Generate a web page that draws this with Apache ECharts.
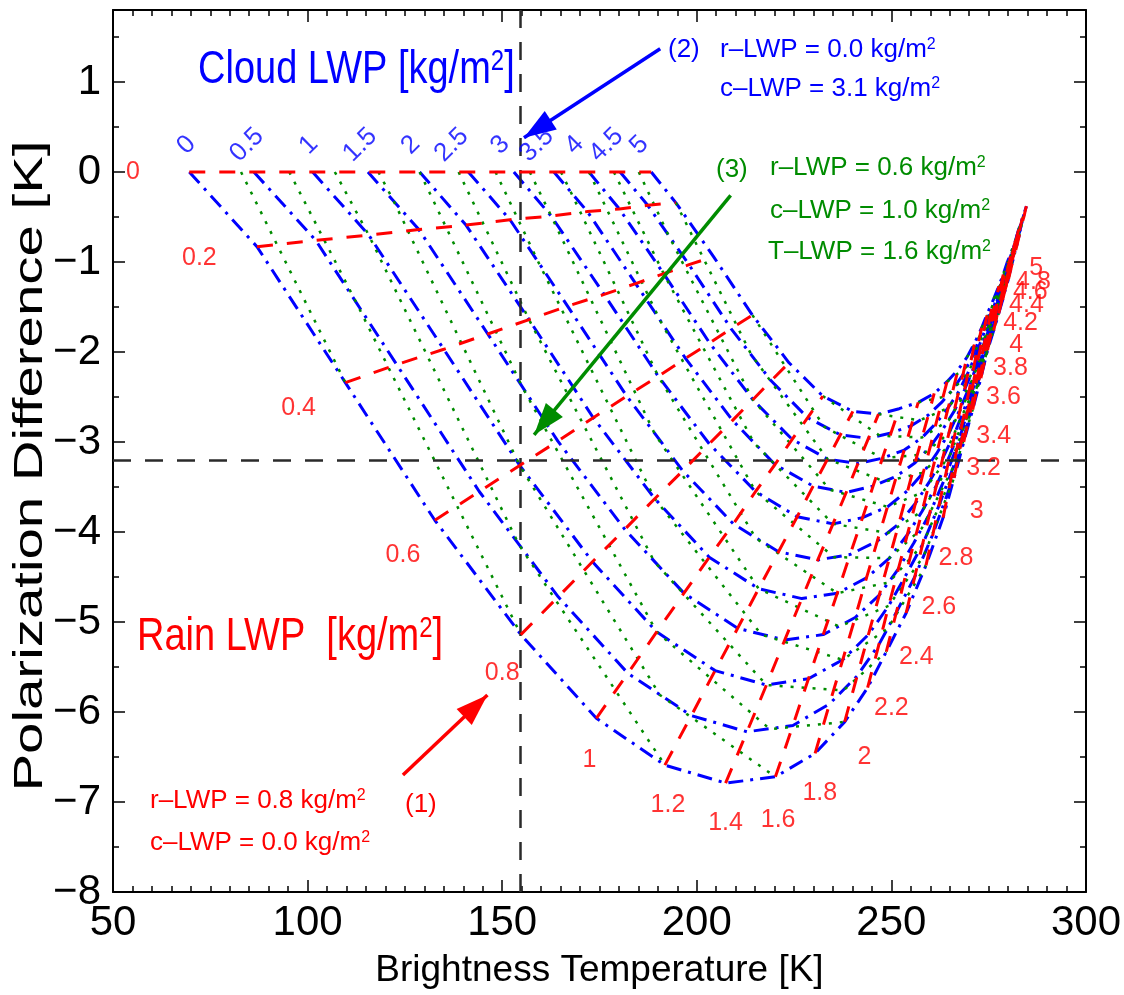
<!DOCTYPE html>
<html>
<head>
<meta charset="utf-8">
<title>Polarization difference vs brightness temperature</title>
<script src="https://cdn.jsdelivr.net/npm/echarts@6.0.0/dist/echarts.min.js"></script>
<style>
  html, body { margin: 0; padding: 0; background: #fff; }
  #main { width: 1124px; height: 995px; }
</style>
</head>
<body>
<div id="main"></div>
<script>
// lookup table
// rows = rain LWP, columns = cloud LWP, values = Tb [K] / PD [K]
const cloudLevels = [0, 0.5, 1, 1.5, 2, 2.5, 3, 3.5, 4, 4.5, 5]
const rainLevels = [0, 0.2, 0.4, 0.6, 0.8, 1, 1.2, 1.4, 1.6, 1.8, 2, 2.2, 2.4, 2.6, 2.8,
  3, 3.2, 3.4, 3.6, 3.8, 4, 4.2, 4.4, 4.6, 4.8, 5]

const tbGrid = [
  [69.6, 86.2, 101.3, 115.5, 128.8, 141.3, 153.0, 163.3, 172.3, 180.3, 188.3],
  [87.0, 102.1, 115.7, 128.6, 140.7, 152.0, 162.6, 171.9, 180.1, 187.4, 194.6],
  [109.7, 122.9, 135.0, 146.3, 156.9, 166.8, 176.2, 184.3, 191.5, 198.0, 204.3],
  [132.7, 144.1, 154.5, 164.3, 173.4, 182.0, 190.1, 197.1, 203.3, 208.8, 214.3],
  [154.8, 164.4, 173.2, 181.5, 189.2, 196.4, 203.2, 209.2, 214.4, 219.1, 223.7],
  [174.2, 182.3, 189.7, 196.7, 203.2, 209.4, 215.1, 220.1, 224.5, 228.5, 232.4],
  [191.8, 198.6, 204.7, 210.5, 215.9, 221.0, 225.8, 229.9, 233.6, 236.9, 240.1],
  [207.4, 212.9, 217.9, 222.6, 227.0, 231.1, 235.0, 238.4, 241.4, 244.1, 246.7],
  [220.2, 224.7, 228.7, 232.5, 236.1, 239.4, 242.6, 245.3, 247.7, 249.9, 252.0],
  [230.4, 234.1, 237.5, 240.7, 243.6, 246.4, 249.0, 251.3, 253.3, 255.1, 256.9],
  [238.0, 241.2, 244.1, 246.9, 249.5, 251.9, 254.2, 256.1, 257.9, 259.5, 261.0],
  [243.9, 246.8, 249.3, 251.8, 254.1, 256.2, 258.2, 260.0, 261.5, 262.9, 264.3],
  [248.7, 251.3, 253.6, 255.8, 257.9, 259.8, 261.6, 263.2, 264.6, 265.9, 267.1],
  [253.8, 256.0, 258.0, 259.8, 261.6, 263.2, 264.8, 266.1, 267.3, 268.4, 269.4],
  [258.9, 260.7, 262.2, 263.7, 265.1, 266.5, 267.7, 268.8, 269.7, 270.6, 271.4],
  [263.3, 264.7, 265.9, 267.1, 268.2, 269.3, 270.3, 271.1, 271.9, 272.5, 273.2],
  [266.1, 267.3, 268.4, 269.4, 270.4, 271.3, 272.1, 272.9, 273.5, 274.1, 274.7],
  [268.6, 269.7, 270.7, 271.6, 272.4, 273.3, 274.0, 274.7, 275.3, 275.8, 276.3],
  [270.9, 271.8, 272.7, 273.5, 274.2, 274.9, 275.6, 276.2, 276.7, 277.2, 277.6],
  [273.0, 273.8, 274.5, 275.2, 275.9, 276.5, 277.1, 277.6, 278.0, 278.4, 278.8],
  [274.7, 275.4, 276.1, 276.7, 277.2, 277.8, 278.3, 278.7, 279.1, 279.5, 279.8],
  [276.3, 276.9, 277.5, 278.1, 278.6, 279.1, 279.5, 279.9, 280.3, 280.6, 280.9],
  [277.6, 278.2, 278.7, 279.3, 279.7, 280.2, 280.6, 281.0, 281.3, 281.6, 281.9],
  [278.6, 279.2, 279.7, 280.2, 280.6, 281.1, 281.5, 281.8, 282.1, 282.4, 282.7],
  [279.3, 279.9, 280.5, 281.0, 281.5, 282.0, 282.4, 282.8, 283.1, 283.4, 283.7],
  [280.1, 280.7, 281.3, 281.9, 282.4, 282.9, 283.3, 283.7, 284.1, 284.4, 284.7]
]

const pdGrid = [
  [0, 0, 0, 0, 0, 0, 0, 0, 0, 0, 0],
  [-0.83, -0.76, -0.70, -0.64, -0.59, -0.53, -0.49, -0.44, -0.41, -0.37, -0.34],
  [-2.34, -2.14, -1.97, -1.80, -1.64, -1.49, -1.36, -1.24, -1.13, -1.03, -0.94],
  [-3.87, -3.55, -3.26, -2.99, -2.73, -2.49, -2.27, -2.07, -1.90, -1.74, -1.59],
  [-5.14, -4.72, -4.33, -3.97, -3.63, -3.32, -3.02, -2.76, -2.53, -2.32, -2.12],
  [-6.07, -5.57, -5.11, -4.68, -4.28, -3.91, -3.55, -3.25, -2.97, -2.73, -2.49],
  [-6.59, -6.04, -5.54, -5.07, -4.63, -4.22, -3.83, -3.49, -3.19, -2.92, -2.66],
  [-6.79, -6.22, -5.70, -5.20, -4.74, -4.31, -3.91, -3.56, -3.24, -2.96, -2.69],
  [-6.72, -6.15, -5.63, -5.14, -4.68, -4.25, -3.84, -3.49, -3.18, -2.90, -2.63],
  [-6.46, -5.91, -5.42, -4.95, -4.51, -4.10, -3.72, -3.38, -3.09, -2.82, -2.56],
  [-6.11, -5.60, -5.14, -4.70, -4.29, -3.91, -3.54, -3.23, -2.95, -2.70, -2.46],
  [-5.73, -5.25, -4.82, -4.41, -4.03, -3.68, -3.34, -3.05, -2.79, -2.56, -2.33],
  [-5.33, -4.89, -4.49, -4.12, -3.77, -3.44, -3.13, -2.86, -2.62, -2.41, -2.20],
  [-4.90, -4.50, -4.14, -3.80, -3.48, -3.18, -2.90, -2.66, -2.44, -2.25, -2.06],
  [-4.37, -4.02, -3.71, -3.41, -3.14, -2.88, -2.63, -2.42, -2.23, -2.07, -1.90],
  [-3.84, -3.54, -3.28, -3.02, -2.79, -2.57, -2.36, -2.18, -2.01, -1.87, -1.73],
  [-3.40, -3.14, -2.91, -2.69, -2.49, -2.29, -2.11, -1.96, -1.82, -1.69, -1.57],
  [-3.00, -2.78, -2.58, -2.38, -2.21, -2.04, -1.88, -1.75, -1.62, -1.52, -1.41],
  [-2.64, -2.45, -2.27, -2.11, -1.96, -1.81, -1.68, -1.56, -1.45, -1.36, -1.27],
  [-2.29, -2.13, -1.98, -1.84, -1.71, -1.59, -1.47, -1.37, -1.29, -1.21, -1.13],
  [-1.98, -1.84, -1.72, -1.60, -1.49, -1.39, -1.29, -1.21, -1.13, -1.07, -1.00],
  [-1.76, -1.64, -1.53, -1.42, -1.32, -1.23, -1.14, -1.07, -1.00, -0.94, -0.88],
  [-1.57, -1.46, -1.35, -1.26, -1.17, -1.08, -1.00, -0.93, -0.87, -0.81, -0.76],
  [-1.42, -1.31, -1.21, -1.12, -1.03, -0.95, -0.87, -0.80, -0.75, -0.69, -0.64],
  [-1.30, -1.19, -1.09, -0.99, -0.91, -0.82, -0.74, -0.68, -0.62, -0.56, -0.51],
  [-1.19, -1.08, -0.97, -0.88, -0.79, -0.70, -0.62, -0.55, -0.49, -0.43, -0.38]
]

// lines of constant total LWP (green dotted), points where they cross the grid
const totalLevels = [0.4, 0.8, 1.2, 1.6, 2.0, 2.4, 2.8, 3.2, 3.6, 4.0, 4.4, 4.8,
  5.2, 5.6, 6.0, 6.4, 6.8, 7.2, 7.6, 8.0, 8.4, 8.8, 9.2, 9.6]
const totalTb = [
  [82.9, 109.7],
  [95.3, 112.5, 154.8],
  [107.0, 115.7, 154.3, 191.8],
  [118.2, 122.1, 154.5, 190.5, 220.2],
  [128.8, 155.3, 189.7, 218.8, 238.0],
  [138.8, 156.9, 189.1, 217.9, 237.7, 248.7],
  [148.3, 159.4, 189.2, 216.6, 237.5, 249.1, 258.9],
  [157.1, 162.6, 189.2, 215.9, 236.6, 249.3, 258.4, 266.1],
  [165.1, 167.6, 190.1, 215.2, 236.1, 249.4, 258.0, 266.0, 270.9],
  [172.3, 190.7, 215.1, 235.3, 249.5, 257.8, 265.9, 270.8, 274.7],
  [178.7, 191.5, 214.7, 235.0, 249.2, 257.9, 265.4, 270.7, 274.6, 277.6],
  [185.1, 192.7, 214.4, 234.2, 249.0, 258.0, 265.1, 270.5, 274.5, 277.6, 279.3],
  [194.6, 214.0, 233.6, 248.3, 258.2, 264.9, 270.4, 274.4, 277.5, 279.6, 280.3],
  [214.3, 232.7, 247.7, 258.1, 264.8, 270.3, 274.2, 277.4, 279.7, 280.8],
  [232.4, 247.0, 257.9, 264.7, 270.3, 274.1, 277.2, 279.8, 281.3],
  [246.7, 257.3, 264.6, 270.0, 274.0, 277.2, 279.7, 281.5, 281.8],
  [256.9, 264.4, 269.7, 273.8, 277.1, 279.7, 281.5, 282.2],
  [264.3, 269.5, 273.5, 276.9, 279.5, 281.6, 282.6],
  [269.4, 273.3, 276.7, 279.3, 281.5, 283.0],
  [273.2, 276.5, 279.1, 281.4, 283.3],
  [276.3, 279.0, 281.3, 283.3, 283.6],
  [278.8, 281.1, 283.1, 283.9],
  [280.9, 282.9, 284.2],
  [282.7, 284.5]
]
const totalPd = [
  [0, -2.34],
  [0, -1.45, -5.14],
  [0, -0.70, -4.14, -6.59],
  [0, -0.32, -3.26, -5.81, -6.72],
  [0, -2.40, -5.11, -6.19, -6.11],
  [0, -1.64, -4.33, -5.70, -5.76, -5.33],
  [0, -1.01, -3.63, -5.14, -5.42, -5.07, -4.37],
  [0, -0.49, -2.91, -4.63, -5.05, -4.82, -4.26, -3.40],
  [0, -0.22, -2.27, -4.07, -4.68, -4.56, -4.14, -3.34, -2.64],
  [0, -1.66, -3.55, -4.28, -4.29, -3.96, -3.28, -2.62, -1.98],
  [0, -1.13, -3.01, -3.91, -4.01, -3.77, -3.22, -2.58, -1.99, -1.57],
  [0, -0.70, -2.53, -3.53, -3.72, -3.56, -3.14, -2.54, -1.98, -1.55, -1.30],
  [-0.34, -2.03, -3.19, -3.44, -3.34, -3.03, -2.49, -1.98, -1.53, -1.25, -1.15],
  [-1.59, -2.83, -3.18, -3.14, -2.90, -2.43, -1.96, -1.51, -1.21, -1.06],
  [-2.49, -2.93, -2.95, -2.76, -2.36, -1.93, -1.49, -1.19, -0.97],
  [-2.69, -2.76, -2.62, -2.30, -1.88, -1.49, -1.17, -0.94, -0.90],
  [-2.56, -2.49, -2.23, -1.86, -1.47, -1.16, -0.91, -0.83],
  [-2.33, -2.16, -1.82, -1.47, -1.14, -0.89, -0.75],
  [-2.06, -1.78, -1.45, -1.14, -0.87, -0.68],
  [-1.73, -1.44, -1.13, -0.87, -0.62],
  [-1.41, -1.14, -0.87, -0.62, -0.56],
  [-1.13, -0.88, -0.62, -0.51],
  [-0.88, -0.63, -0.47],
  [-0.64, -0.42]
]

// where the value labels sit (data coords)
const rainLabelTb = [55.1, 72.2, 97.7, 124.5, 150.0, 172.4, 192.6, 207.4, 220.9, 231.6, 243.1,
  250.0, 256.4, 262.2, 266.6, 271.9, 273.7, 276.3, 278.8, 280.6, 282.1, 283.2, 284.7, 285.7, 286.5, 287.2]
const rainLabelPd = [0, -0.96, -2.62, -4.26, -5.57, -6.53, -7.03, -7.23, -7.20, -6.90, -6.50,
  -5.96, -5.39, -4.83, -4.29, -3.77, -3.29, -2.94, -2.50, -2.18, -1.92, -1.68, -1.48, -1.34, -1.22, -1.07]
const cloudLabelTb = [68.9, 84.4, 100.3, 113.5, 126.5, 137.0, 149.5, 158.9, 168.6, 176.8, 185.2]
const cloudLabelPd = [0.3, 0.3, 0.3, 0.3, 0.3, 0.3, 0.3, 0.3, 0.3, 0.3, 0.3]

// the three marked cases
const caseTb = 154.7
const casePd = -3.2
const arrows = [
  { from: [124.5, -6.70], to: [146.2, -5.81], color: '#ff0000' },
  { from: [190.6, 1.37], to: [155.6, 0.38], color: '#0000ff' },
  { from: [208.7, -0.26], to: [158.2, -2.92], color: '#008c00' }
]

const BLUE = '#0000ff', RED = '#ff0000', GREEN = '#008c00'
const SANS = '"Liberation Sans", Arial, sans-serif'

const fmt = v => Number.isInteger(v) ? String(v) : v.toFixed(1)

let series = []

// cloud LWP lines (blue dash-dot)
cloudLevels.forEach((c, i) => {
  series.push({
    type: 'line', name: 'cloud ' + c, z: 3,
    data: rainLevels.map((r, j) => [tbGrid[j][i], pdGrid[j][i]]),
    showSymbol: false, silent: true,
    lineStyle: { color: BLUE, width: 3, type: [15, 7, 3, 7] }
  })
})

// total LWP lines (green dotted)
totalLevels.forEach((t, k) => {
  series.push({
    type: 'line', name: 'total ' + t, z: 4,
    data: totalTb[k].map((x, n) => [x, totalPd[k][n]]),
    showSymbol: false, silent: true,
    lineStyle: { color: GREEN, width: 2.5, type: [3, 8] }
  })
})

// rain LWP lines (red dashed)
rainLevels.forEach((r, j) => {
  series.push({
    type: 'line', name: 'rain ' + r, z: 5,
    data: cloudLevels.map((c, i) => [tbGrid[j][i], pdGrid[j][i]]),
    showSymbol: false, silent: true,
    lineStyle: { color: RED, width: 3, type: [16, 14] }
  })
})

// dashed guide lines through the marked cases
series.push({
  type: 'line', data: [], z: 2,
  markLine: {
    silent: true, symbol: 'none', animation: false,
    label: { show: false },
    lineStyle: { color: '#2a2a2a', width: 2.5, type: [18, 14] },
    data: [{ xAxis: caseTb }, { yAxis: casePd }]
  }
})

// arrow shafts
arrows.forEach(a => {
  series.push({
    type: 'line', z: 6, data: [a.from, a.to], showSymbol: false, silent: true,
    lineStyle: { color: a.color, width: 3.5 }
  })
})

// value labels
series.push({
  type: 'scatter', z: 7, symbolSize: 0, silent: true,
  data: rainLevels.map((r, j) => ({ value: [rainLabelTb[j], rainLabelPd[j]], name: fmt(r) })),
  label: { show: true, position: 'inside', formatter: p => p.name, color: RED, fontSize: 25, fontFamily: SANS }
})
series.push({
  type: 'scatter', z: 7, symbolSize: 0, silent: true,
  data: cloudLevels.map((c, i) => ({ value: [cloudLabelTb[i], cloudLabelPd[i]], name: fmt(c) })),
  label: { show: true, position: 'inside', rotate: 45, formatter: p => p.name, color: BLUE, fontSize: 26, fontFamily: SANS }
})

const axisBase = {
  type: 'value',
  axisLine: { show: true, onZero: false, lineStyle: { color: '#000', width: 2 } },
  axisTick: { show: true, inside: true, length: 12, lineStyle: { color: '#000', width: 1.5 } },
  minorTick: { show: true, length: 6, lineStyle: { color: '#000', width: 1.5 } },
  splitLine: { show: false }
}

const option = {
  animation: false,
  backgroundColor: '#fff',
  grid: { left: 113, right: 29, top: 10, bottom: 103 },
  xAxis: [
    Object.assign({}, axisBase, {
      min: 50, max: 300, interval: 50, position: 'bottom',
      minorTick: Object.assign({}, axisBase.minorTick, { splitNumber: 10 }),
      axisLabel: { color: '#000', fontSize: 42, fontFamily: SANS, margin: 10 },
      name: 'Brightness Temperature [K]', nameLocation: 'middle', nameGap: 60,
      nameTextStyle: { color: '#000', fontSize: 37, fontFamily: SANS }
    }),
    Object.assign({}, axisBase, {
      min: 50, max: 300, interval: 50, position: 'top',
      minorTick: Object.assign({}, axisBase.minorTick, { splitNumber: 10 }),
      axisLabel: { show: false }
    })
  ],
  yAxis: [
    Object.assign({}, axisBase, {
      min: -8, max: 1.8, interval: 1, position: 'left',
      minorTick: Object.assign({}, axisBase.minorTick, { splitNumber: 2 }),
      axisLabel: {
        color: '#000', fontSize: 42, fontFamily: SANS, margin: 12,
        formatter: v => Number.isInteger(v) ? (v < 0 ? '\u2212' + (-v) : String(v)) : ''
      }
    }),
    Object.assign({}, axisBase, {
      min: -8, max: 1.8, interval: 1, position: 'right',
      minorTick: Object.assign({}, axisBase.minorTick, { splitNumber: 2 }),
      axisLabel: { show: false }
    })
  ],
  series: series
}

const chart = echarts.init(document.getElementById('main'), null, { renderer: 'canvas' })
chart.setOption(option)

// texts with a raised "2" for kg/m2, placed in screen space
const txt = (x, y, text, color, size, sy) => {
  const parts = text.split('^2')
  const rich = '{a|' + parts.join('}{s|2}{a|') + '}'
  return {
    type: 'text', x: x, y: y, scaleY: sy || 1, silent: true, z: 10,
    style: {
      text: rich, textVerticalAlign: 'middle',
      rich: {
        a: { fill: color, fontSize: size, fontFamily: SANS },
        s: { fill: color, fontSize: Math.round(size * 0.62), fontFamily: SANS, verticalAlign: 'top' }
      }
    }
  }
}

let graphics = [
  txt(198, 70, 'Cloud LWP [kg/m^2]', BLUE, 38, 1.2),
  txt(137, 637, 'Rain LWP  [kg/m^2]', RED, 38, 1.2),
  txt(668, 50, '(2)', BLUE, 26),
  txt(720, 50, 'r\u2013LWP = 0.0 kg/m^2', BLUE, 26),
  txt(720, 89, 'c\u2013LWP = 3.1 kg/m^2', BLUE, 26),
  txt(716, 170, '(3)', GREEN, 26),
  txt(770, 168, 'r\u2013LWP = 0.6 kg/m^2', GREEN, 26),
  txt(770, 211, 'c\u2013LWP = 1.0 kg/m^2', GREEN, 26),
  txt(768, 252, 'T\u2013LWP = 1.6 kg/m^2', GREEN, 26),
  txt(150, 801, 'r\u2013LWP = 0.8 kg/m^2', RED, 26),
  txt(150, 843, 'c\u2013LWP = 0.0 kg/m^2', RED, 26),
  txt(405, 805, '(1)', RED, 26),
  {
    type: 'text', x: 31, y: 466, rotation: Math.PI / 2, scaleX: 1.41, silent: true,
    style: {
      text: 'Polarization Difference [K]', fill: '#000', fontSize: 40, fontFamily: SANS,
      textAlign: 'center', textVerticalAlign: 'middle'
    }
  }
]

arrows.forEach(a => {
  const p0 = chart.convertToPixel({ gridIndex: 0 }, a.from)
  const p1 = chart.convertToPixel({ gridIndex: 0 }, a.to)
  const dx = p1[0] - p0[0], dy = p1[1] - p0[1]
  const len = Math.hypot(dx, dy)
  const ux = dx / len, uy = dy / len
  const L = 32, W = 11
  const bx = p1[0] - ux * L, by = p1[1] - uy * L
  graphics.push({
    type: 'polygon', silent: true, z: 10,
    shape: { points: [p1, [bx - uy * W, by + ux * W], [bx + uy * W, by - ux * W]] },
    style: { fill: a.color }
  })
})

chart.setOption({ graphic: graphics })
</script>
</body>
</html>
